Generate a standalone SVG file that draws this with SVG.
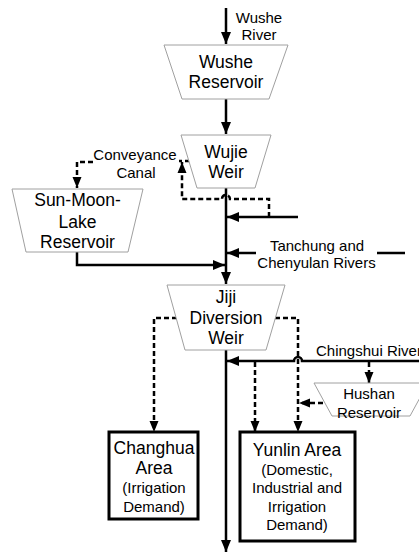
<svg xmlns="http://www.w3.org/2000/svg" width="419" height="553" viewBox="0 0 419 553">
<defs>
<marker id="ah" markerUnits="userSpaceOnUse" markerWidth="12" markerHeight="10" refX="12" refY="5" orient="auto"><path d="M0,0 L12,5 L0,10 z" fill="#000"/></marker>
<marker id="ahd" markerUnits="userSpaceOnUse" markerWidth="11" markerHeight="10" refX="11" refY="5" orient="auto"><path d="M0,0.5 L11,5 L0,9.5 z" fill="#000"/></marker>
<style>
.trap{fill:#fff;stroke:#a0a0a0;stroke-width:1}
.box{fill:#fff;stroke:#000;stroke-width:3}
.s{fill:none;stroke:#000;stroke-width:2.5}
.d{fill:none;stroke:#000;stroke-width:2.5;stroke-dasharray:5,3}
text{font-family:"Liberation Sans",Arial,sans-serif;fill:#000}
.n{font-size:17.5px;text-anchor:middle}
.m{font-size:15px;text-anchor:middle}
.l{font-size:15px}
</style>
</defs>
<rect width="419" height="553" fill="#fff"/>
<g id="connectors">
<path class="s" d="M226,8 L226,44" marker-end="url(#ah)"/>
<path class="s" d="M226,99 L226,134" marker-end="url(#ah)"/>
<path class="s" d="M226,188 L226,284" marker-end="url(#ah)"/>
<path class="s" d="M226,350 L226,552" marker-end="url(#ah)"/>
<path class="s" d="M298,217 L227,217" marker-end="url(#ah)"/>
<path class="s" d="M405,253 L377,253 M256,253 L227,253" marker-end="url(#ah)"/>
<path class="s" d="M77,252 L77,265 L225,265" marker-end="url(#ah)"/>
<path class="s" d="M419,361 L302,361 A4,4 0 0 0 294,361 L227,361" marker-end="url(#ah)"/>
<path class="d" d="M190,161 L179,161 M93,162 L77,162 L77,188" marker-end="url(#ahd)"/>
<path class="d" d="M269,217 L269,199 L230,199 A4,4 0 0 0 222,199 L182,199 L182,162" marker-end="url(#ahd)"/>
<path class="d" d="M177,318 L154,318 L154,432" marker-end="url(#ahd)"/>
<path class="d" d="M275,318 L298,318 L298,432" marker-end="url(#ahd)"/>
<path class="d" d="M255,362 L255,432" marker-end="url(#ahd)"/>
<path class="d" d="M369,362 L369,383" marker-end="url(#ahd)"/>
<path class="d" d="M323,403 L299,403" marker-end="url(#ahd)"/>
</g>
<g id="wushe-river"><text class="m" x="259" y="22.5">Wushe</text><text class="m" x="259" y="40">River</text></g>
<g id="wushe-reservoir"><polygon class="trap" points="164,45 288,45 269,99 182,99"/><text class="n" x="226" y="68">Wushe</text><text class="n" x="226" y="88">Reservoir</text></g>
<g id="wujie-weir"><polygon class="trap" points="181,135 271,135 255,188 197,188"/><text class="n" x="226" y="158">Wujie</text><text class="n" x="226" y="178">Weir</text></g>
<g id="conveyance-canal"><text class="m" x="135" y="159.5">Conveyance</text><text class="m" x="136" y="177.5">Canal</text></g>
<g id="sun-moon-lake"><polygon class="trap" points="12,189 143,189 128,252 26,252"/><text class="n" x="77.5" y="206">Sun-Moon-</text><text class="n" x="77.5" y="228">Lake</text><text class="n" x="77.5" y="248">Reservoir</text></g>
<g id="tanchung"><text class="m" x="317" y="250.5">Tanchung and</text><text class="m" x="316.5" y="267.5">Chenyulan Rivers</text></g>
<g id="jiji-weir"><polygon class="trap" points="167,285 285,285 266,350 185,350"/><text class="n" x="226" y="303">Jiji</text><text class="n" x="226" y="324">Diversion</text><text class="n" x="226" y="344">Weir</text></g>
<g id="chingshui-river"><text class="l" x="316" y="355.5">Chingshui River</text></g>
<g id="hushan-reservoir"><polygon class="trap" points="314,383 428,383 410,416 332,416"/><text class="m" x="369" y="399">Hushan</text><text class="m" x="369" y="418">Reservoir</text></g>
<g id="changhua-area"><rect class="box" x="109" y="432" width="89" height="87"/><text class="n" x="154" y="454">Changhua</text><text class="n" x="154" y="474">Area</text><text class="m" x="154" y="493">(Irrigation</text><text class="m" x="154" y="512">Demand)</text></g>
<g id="yunlin-area"><rect class="box" x="240" y="432" width="115" height="109"/><text class="n" x="297" y="456">Yunlin Area</text><text class="m" x="297" y="475">(Domestic,</text><text class="m" x="297" y="493">Industrial and</text><text class="m" x="297" y="512">Irrigation</text><text class="m" x="297" y="530">Demand)</text></g>
</svg>
